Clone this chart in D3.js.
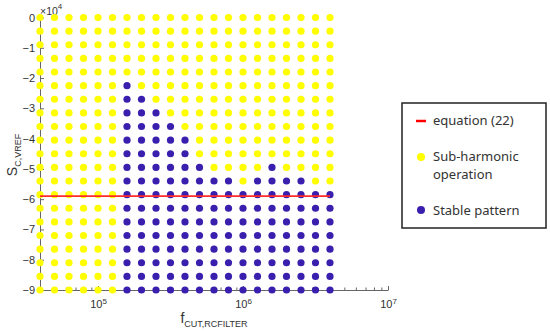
<!DOCTYPE html>
<html>
<head>
<meta charset="utf-8">
<script src="https://d3js.org/d3.v7.min.js"></script>
<style>
  body { margin: 0; background: #fff; }
  .tick text { font-family: "Liberation Sans", Arial, sans-serif; fill: #333; }
  .legend text { font-family: "Noto Sans", sans-serif; font-size: 13px; fill: #333; }
</style>
</head>
<body>
<script>
// sweep values
var freqs = [39811, 50119, 63096, 79433, 100000, 125893, 158489, 199526, 251189, 316228, 398107,
             501187, 630957, 794328, 1000000, 1258925, 1584893, 1995262, 2511886, 3162278, 3981072];
var sVals = [0, -4500, -9000, -13500, -18000, -22500, -27000, -31500, -36000, -40500, -45000,
             -49500, -54000, -58500, -63000, -67500, -72000, -76500, -81000, -85500, -90000];
// one string per S row, one char per freq: 1 = stable pattern, 0 = sub-harmonic
var stableGrid = [
  "000000000000000000000",
  "000000000000000000000",
  "000000000000000000000",
  "000000000000000000000",
  "000000000000000000000",
  "000000100000000000000",
  "000000110000000000000",
  "000000111000000000000",
  "000000111100000000000",
  "000000111110000000000",
  "000000111110000000000",
  "000000111111000010000",
  "000000111111110111100",
  "000000111111111111111",
  "000000111111111111111",
  "000000111111111111111",
  "000000111111111111111",
  "000000111111111111111",
  "000000111111111111111",
  "000000111111111111111",
  "000000111111111111111"
];
var equationS = -59000;
var xMajor = [1e5, 1e6, 1e7];
var xMinor = [5e4, 6e4, 7e4, 8e4, 9e4, 2e5, 3e5, 4e5, 5e5, 6e5, 7e5, 8e5, 9e5,
              2e6, 3e6, 4e6, 5e6, 6e6, 7e6, 8e6, 9e6];
var yTicks = [-90000, -80000, -70000, -60000, -50000, -40000, -30000, -20000, -10000, 0];

var yellow = "#ffff00", blue = "#3a1fae";

var pts = [];
sVals.forEach(function(s, i) {
  freqs.forEach(function(f, j) {
    pts.push({f: f, s: s, stable: stableGrid[i][j] === "1"});
  });
});

var svg = d3.select("body").append("svg")
  .attr("width", 550).attr("height", 332);

var x = d3.scaleLog().domain([39811, 1e7]).range([40, 388]);
var y = d3.scaleLinear().domain([-90000, 0]).range([290, 17.5]);

// minor ticks first
svg.append("g")
  .attr("transform", "translate(0,290)")
  .call(d3.axisBottom(x).tickValues(xMinor).tickSize(-2.5).tickFormat(""))
  .call(function(g) { g.select(".domain").remove(); g.selectAll("line").attr("stroke", "#666"); });

var xAx = svg.append("g")
  .attr("transform", "translate(0,290)")
  .call(d3.axisBottom(x).tickValues(xMajor).tickSize(-4).tickSizeOuter(0).tickPadding(8).tickFormat(""));
xAx.select(".domain").attr("stroke", "#666");
xAx.selectAll("line").attr("stroke", "#666");
xAx.selectAll(".tick text").each(function(d) {
  var t = d3.select(this).attr("font-size", 11).attr("dy", "0.9em");
  t.append("tspan").text("10");
  t.append("tspan").attr("dy", "-0.5em").attr("font-size", 8).text(Math.round(Math.log10(d)));
});

var yAx = svg.append("g")
  .attr("transform", "translate(40,0)")
  .call(d3.axisLeft(y).tickValues(yTicks).tickSize(-4).tickSizeOuter(0).tickPadding(5)
    .tickFormat(function(d) { return d === 0 ? "0" : "\u2212" + Math.abs(d / 1e4); }));
yAx.select(".domain").attr("stroke", "#666");
yAx.selectAll("line").attr("stroke", "#666");
yAx.selectAll(".tick text").attr("font-size", 11);

// exponent note
var ex = svg.append("text").attr("x", 40).attr("y", 15)
  .attr("font-family", "Liberation Sans, Arial, sans-serif").attr("font-size", 10.5).attr("fill", "#333");
ex.append("tspan").text("\u00d710");
ex.append("tspan").attr("dy", -6).attr("font-size", 8).text("4");

// axis labels
var xl = svg.append("text").attr("x", 214).attr("y", 323).attr("text-anchor", "middle")
  .attr("font-family", "Liberation Sans, Arial, sans-serif").attr("font-size", 14).attr("fill", "#333");
xl.append("tspan").text("f");
xl.append("tspan").attr("dy", 4).attr("font-size", 9).text("CUT,RCFILTER");

var yl = svg.append("text").attr("transform", "translate(17,155) rotate(-90)").attr("text-anchor", "middle")
  .attr("font-family", "Liberation Sans, Arial, sans-serif").attr("font-size", 14).attr("fill", "#333");
yl.append("tspan").text("S");
yl.append("tspan").attr("dy", 4).attr("font-size", 9).text("C,VREF");

// dots
svg.append("g").selectAll("circle")
  .data(pts).enter().append("circle")
  .attr("cx", function(d) { return x(d.f); })
  .attr("cy", function(d) { return y(d.s); })
  .attr("r", 3.6)
  .attr("fill", function(d) { return d.stable ? blue : yellow; });

// equation (22) line
svg.append("line")
  .attr("x1", x(freqs[0])).attr("x2", x(freqs[freqs.length - 1]))
  .attr("y1", y(equationS)).attr("y2", y(equationS))
  .attr("stroke", "#ff2a2a").attr("stroke-width", 1.6);

// legend
var lg = svg.append("g").attr("class", "legend");
lg.append("rect").attr("x", 402).attr("y", 103).attr("width", 144).attr("height", 125)
  .attr("fill", "#fff").attr("stroke", "#222").attr("stroke-width", 1.5);
lg.append("line").attr("x1", 416).attr("x2", 426).attr("y1", 121).attr("y2", 121)
  .attr("stroke", "#ff0000").attr("stroke-width", 2.5);
lg.append("text").attr("x", 433).attr("y", 125).text("equation (22)");
lg.append("circle").attr("cx", 421).attr("cy", 157).attr("r", 4).attr("fill", yellow);
lg.append("text").attr("x", 433).attr("y", 161).text("Sub-harmonic");
lg.append("text").attr("x", 433).attr("y", 178.5).text("operation");
lg.append("circle").attr("cx", 421).attr("cy", 210).attr("r", 4).attr("fill", blue);
lg.append("text").attr("x", 433).attr("y", 214.5).text("Stable pattern");
</script>
</body>
</html>
